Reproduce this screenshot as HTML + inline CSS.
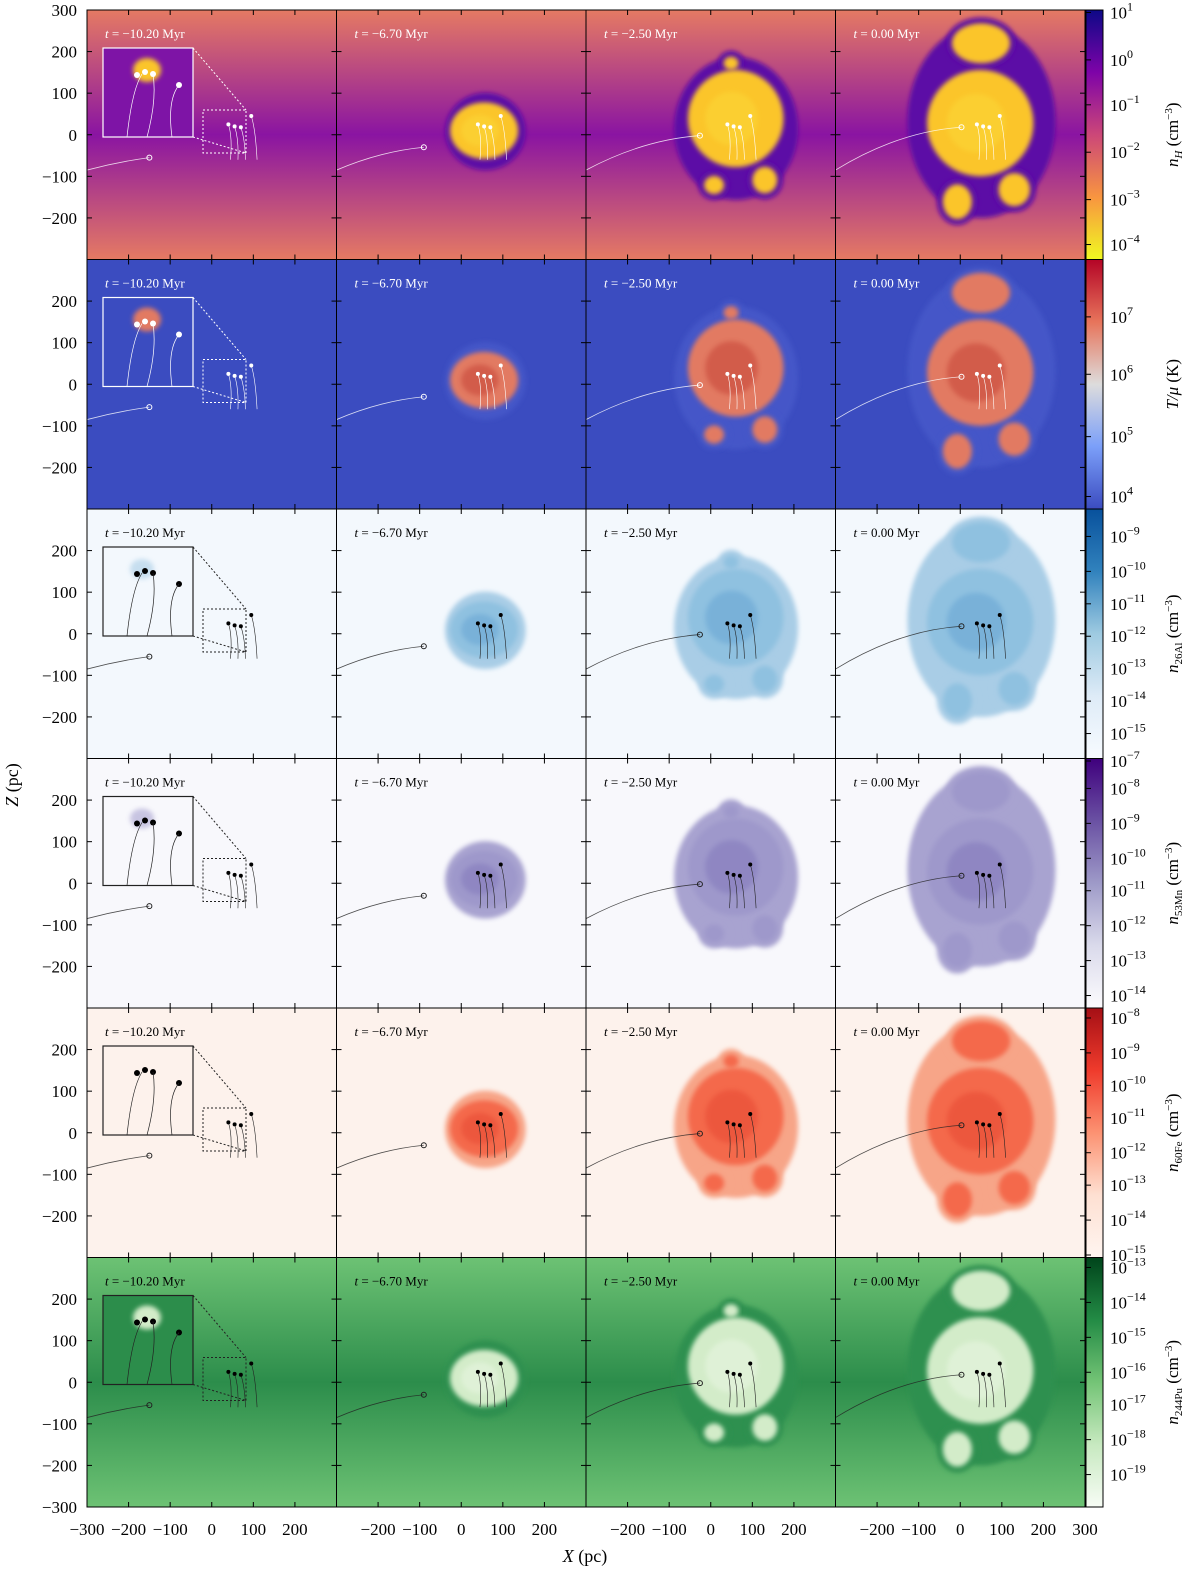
<!DOCTYPE html>
<html><head><meta charset="utf-8">
<style>
body{margin:0;background:#fff;width:1200px;height:1578px;position:relative;overflow:hidden;font-family:"Liberation Serif",serif;}
svg{position:absolute;left:0;top:0}
text{font-family:"Liberation Serif",serif;}
</style></head><body>
<svg id="fig" width="1200" height="1578" xmlns="http://www.w3.org/2000/svg"></svg>
<script>
// ---- data ----
const times = ["−10.20","−6.70","−2.50","0.00"];
// outer shell (halo) per snapshot, pc
const haloX = [0, 58, 61, 51];
const haloZ = [0, 8, 15, 32];
const haloRx = [0, 97, 149, 178];
const haloRz = [0, 93, 172, 232];
// hot core per snapshot, pc
const coreX = [0, 55, 60, 48];
const coreZ = [0, 10, 39, 28];
const coreRx = [0, 82, 115, 128];
const coreRz = [0, 68, 117, 128];
// detached lobes: [snapshot, x, z, rx, rz]
const lobes = [[2,8,-121,24,22],[2,130,-109,30,32],[2,49,172,18,16],[3,-7,-161,35,42],[3,130,-132,38,40],[3,50,220,70,48]];
const trajX = [-150,-90,-26,3];
const trajZ = [-55,-30,-2,18];
const rowNames = ["density","temperature","al26","mn53","fe60","pu244"];
const cbTicks = [
 ["1","0","−1","−2","−3","−4"],
 ["7","6","5","4"],
 ["−9","−10","−11","−12","−13","−14","−15"],
 ["−7","−8","−9","−10","−11","−12","−13","−14"],
 ["−8","−9","−10","−11","−12","−13","−14","−15"],
 ["−13","−14","−15","−16","−17","−18","−19"]];
const cbTickFrac = [
 [0.01,0.2,0.38,0.57,0.76,0.94],
 [0.23,0.46,0.71,0.95],
 [0.11,0.25,0.38,0.51,0.64,0.77,0.9],
 [0.01,0.12,0.26,0.4,0.53,0.67,0.81,0.95],
 [0.04,0.18,0.31,0.44,0.58,0.71,0.85,0.99],
 [0.04,0.18,0.32,0.46,0.59,0.73,0.87]];
const cbLabels = ["n<tspan font-size='11' dy='4'>H</tspan><tspan dy='-4' font-style='normal'> (cm</tspan><tspan font-size='11' dy='-6' font-style='normal'>−3</tspan><tspan dy='6' font-style='normal'>)</tspan>",
 "T/μ <tspan font-style='normal'>(K)</tspan>",
 "n<tspan font-size='11' dy='4' font-style='normal'>26Al</tspan><tspan dy='-4' font-style='normal'> (cm</tspan><tspan font-size='11' dy='-6' font-style='normal'>−3</tspan><tspan dy='6' font-style='normal'>)</tspan>",
 "n<tspan font-size='11' dy='4' font-style='normal'>53Mn</tspan><tspan dy='-4' font-style='normal'> (cm</tspan><tspan font-size='11' dy='-6' font-style='normal'>−3</tspan><tspan dy='6' font-style='normal'>)</tspan>",
 "n<tspan font-size='11' dy='4' font-style='normal'>60Fe</tspan><tspan dy='-4' font-style='normal'> (cm</tspan><tspan font-size='11' dy='-6' font-style='normal'>−3</tspan><tspan dy='6' font-style='normal'>)</tspan>",
 "n<tspan font-size='11' dy='4' font-style='normal'>244Pu</tspan><tspan dy='-4' font-style='normal'> (cm</tspan><tspan font-size='11' dy='-6' font-style='normal'>−3</tspan><tspan dy='6' font-style='normal'>)</tspan>"];
const xTicks=[-300,-200,-100,0,100,200,300];
const zTicks=[300,200,100,0,-100,-200,-300];
// ---- styles ----
const bg=[["#e57a63","#8a14a2"],["#3b4cc0","#3b4cc0"],["#f3f8fd","#f3f8fd"],["#f8f8fc","#f8f8fc"],["#fdf2ec","#fdf2ec"],["#6dc274","#2c8d4b"]];
const halo=["#5c0ca6","#4457c8","#a9cde6","#a8a3d0","#f7a588","#2f9050"];
const core=["#fbc52a","#e27a62","#8fc1e0","#9e98cb","#f4694b","#d3ecc9"];
const accent=["#fbdc3a","#c0392e","#5e9fd0","#7d72b8","#e4432f","#eef8e8"];
const cbStops=[["#0d0887","#7e03a8","#cc4778","#f89540","#f0f921"],["#b40426","#e7745b","#dddcdc","#7b9ff9","#3b4cc0"],["#08519c","#3182bd","#9ecae1","#deebf7","#f7fbff"],["#3f007d","#6a51a3","#9e9ac8","#dadaeb","#fcfbfd"],["#a50f15","#ef3b2c","#fc9272","#fee0d2","#fff5f0"],["#00441b","#238b45","#74c476","#c7e9c0","#f7fcf5"]];
const L=87,T=10,W=249.5,H=249.5;
const svg=document.getElementById('fig');const NS="http://www.w3.org/2000/svg";
function el(tag,attrs,parent){const e=document.createElementNS(NS,tag);for(const k in attrs)e.setAttribute(k,attrs[k]);(parent||svg).appendChild(e);return e;}
const defs=el('defs',{});
function sx(c,pc){return L+c*W+(pc+300)/600*W;}
function sz(r,pc){return T+r*H+(300-pc)/600*H;}
function len(pc){return pc/600*W;}
const blurF=el('filter',{id:'bl',x:'-20%',y:'-20%',width:'140%',height:'140%'},defs);el('feGaussianBlur',{stdDeviation:2.5},blurF);
rowNames.forEach((rn,r)=>{
 const g=el('linearGradient',{id:'bg'+r,x1:0,y1:0,x2:0,y2:1},defs);
 [[0,bg[r][0]],[0.5,bg[r][1]],[1,bg[r][0]]].forEach(s=>el('stop',{offset:s[0],'stop-color':s[1]},g));
 const cg=el('linearGradient',{id:'cb'+r,x1:0,y1:0,x2:0,y2:1},defs);
 cbStops[r].forEach((c,i)=>el('stop',{offset:i/(cbStops[r].length-1),'stop-color':c},cg));
 times.forEach((t,c)=>{const cp=el('clipPath',{id:`cp${r}_${c}`},defs);el('rect',{x:L+c*W,y:T+r*H,width:W,height:H},cp);});
});
const lineCol=r=>r<2?"#fff":"#222";
rowNames.forEach((rn,r)=>{
 times.forEach((t,c)=>{
  const x0=L+c*W,y0=T+r*H;
  const p=el('g',{'clip-path':`url(#cp${r}_${c})`});
  
  
  el('rect',{x:x0,y:y0,width:W,height:H,fill:'url(#bg'+r+')'},p);
  if(haloRx[c]>0){
   const b=el('ellipse',{cx:sx(c,haloX[c]),cy:sz(r,haloZ[c]),rx:len(haloRx[c]),ry:len(haloRz[c]),fill:halo[r],filter:'url(#bl)'},p);
   
   lobes.filter(l=>l[0]==c).forEach(l=>{
    el('ellipse',{cx:sx(c,l[1]),cy:sz(r,l[2]),rx:len(l[3]+14),ry:len(l[4]+14),fill:halo[r],filter:'url(#bl)'},p);
   });
   const k=el('ellipse',{cx:sx(c,coreX[c]),cy:sz(r,coreZ[c]),rx:len(coreRx[c]),ry:len(coreRz[c]),fill:core[r],filter:'url(#bl)'},p);
   
   el('ellipse',{cx:sx(c,coreX[c]-10),cy:sz(r,coreZ[c]),rx:len(coreRx[c]*0.55),ry:len(coreRz[c]*0.55),fill:accent[r],opacity:0.45,filter:'url(#bl)'},p);
   lobes.filter(l=>l[0]==c).forEach(l=>{
    const lb=el('ellipse',{cx:sx(c,l[1]),cy:sz(r,l[2]),rx:len(l[3]),ry:len(l[4]),fill:core[r],filter:'url(#bl)'},p);
    
   });
  }
  const lc=lineCol(r);
  const ox=trajX[c],oz=trajZ[c];
  el('path',{d:`M${x0} ${sz(r,-85)} Q${sx(c,(ox-300)/2)} ${sz(r,oz-10)} ${sx(c,ox)} ${sz(r,oz)}`,stroke:lc,fill:'none','stroke-width':0.8,opacity:0.8},p);
  el('circle',{cx:sx(c,ox),cy:sz(r,oz),r:2.5,fill:'none',stroke:lc,'stroke-width':1},p);
  [[40,25],[55,20],[70,18],[95,45]].forEach((s,i)=>{
   el('path',{d:`M${sx(c,s[0])} ${sz(r,s[1])} Q${sx(c,s[0]+10)} ${sz(r,s[1]-30)} ${sx(c,s[0]+5+i*3)} ${sz(r,-60)}`,stroke:lc,fill:'none','stroke-width':0.6},p);
   el('circle',{cx:sx(c,s[0]),cy:sz(r,s[1]),r:2,fill:r<2?"#fff":"#000"},p);
  });
  if(c==0){
   el('rect',{x:x0+16,y:y0+38,width:90,height:89,fill:r==0?'#7e14a6':(r==1?'#3b4cc0':(r==5?'#2c8d4b':bg[r][0])),stroke:lc,'stroke-width':1.2},p);
   if(r==0||r==1||r==5){el('ellipse',{cx:x0+60,cy:y0+60,rx:14,ry:12,fill:r==0?'#fbc52a':(r==1?'#e27a62':'#d3ecc9'),filter:'url(#bl)'},p);}
   if(r==2||r==3){el('ellipse',{cx:x0+55,cy:y0+60,rx:12,ry:10,fill:halo[r],opacity:0.6,filter:'url(#bl)'},p);}
   el('rect',{x:x0+116,y:y0+100,width:43,height:43,fill:'none',stroke:lc,'stroke-dasharray':'2,2'},p);
   el('path',{d:`M${x0+106} ${y0+38}L${x0+159} ${y0+100}M${x0+106} ${y0+127}L${x0+159} ${y0+143}`,stroke:lc,'stroke-dasharray':'2,2'},p);
   [[50,65],[58,62],[66,64],[92,75]].forEach(s=>el('circle',{cx:x0+s[0],cy:y0+s[1],r:3,fill:r<2?'#fff':'#000'},p));
   el('path',{d:`M${x0+40} ${y0+127}Q${x0+45} ${y0+80} ${x0+55} ${y0+64}M${x0+60} ${y0+127}Q${x0+70} ${y0+90} ${x0+66} ${y0+64}M${x0+85} ${y0+127}Q${x0+80} ${y0+90} ${x0+92} ${y0+75}`,stroke:lc,fill:'none','stroke-width':0.7},p);
  }
  const f=el('g',{});
  el('rect',{x:x0,y:y0,width:W,height:H,fill:'none',stroke:'#000','stroke-width':1},f);
  const tl=el('text',{x:x0+18,y:y0+28,'font-size':13,fill:r<2?'#fff':'#000'},f);
  tl.innerHTML=`<tspan font-style="italic">t</tspan> = ${t} Myr`;
  
  xTicks.forEach(v=>{const X=sx(c,v);el('line',{x1:X,x2:X,y1:y0,y2:y0+5,stroke:'#000'},f);el('line',{x1:X,x2:X,y1:y0+H,y2:y0+H-5,stroke:'#000'},f);});
  zTicks.forEach(v=>{const Y=sz(r,v);el('line',{x1:x0,x2:x0+5,y1:Y,y2:Y,stroke:'#000'},f);el('line',{x1:x0+W,x2:x0+W-5,y1:Y,y2:Y,stroke:'#000'},f);});
 });
 zTicks.forEach(v=>{
  if((v==300&&r!=0)||(v==-300&&r!=5))return;
  const tt=el('text',{x:77,y:sz(r,v)+6,'font-size':17,'text-anchor':'end'});
  tt.textContent=v<0?'−'+(-v):v;
  
 });
 const cy0=T+r*H,cx0=L+4*W+1;
 const cb=el('rect',{x:cx0,y:cy0,width:17,height:H,fill:'url(#cb'+r+')',stroke:'#000','stroke-width':1});
 
 cbTicks[r].forEach((v,i)=>{
  const Y=cy0+cbTickFrac[r][i]*H;
  el('line',{x1:cx0,x2:cx0+5,y1:Y,y2:Y,stroke:'#000'});
  const tt=el('text',{x:cx0+24,y:Y+6,'font-size':17});
  tt.innerHTML=`10<tspan font-size="12" dy="-8">${v}</tspan>`;
  
 });
 const lab=el('text',{x:0,y:0,'font-size':17,'text-anchor':'middle',transform:`translate(1178,${cy0+H/2}) rotate(-90)`,'font-style':'italic'});
 lab.innerHTML=cbLabels[r];
 
});
times.forEach((t,c)=>{
 xTicks.forEach(v=>{
  if(v==300&&c!=3)return; if(v==-300&&c!=0)return;
  const tt=el('text',{x:sx(c,v),y:1535,'font-size':17,'text-anchor':'middle'});
  tt.textContent=v<0?'−'+(-v):v;
  
 });
});
const xt=el('text',{x:585,y:1562,'font-size':18,'text-anchor':'middle'});xt.innerHTML='<tspan font-style="italic">X</tspan> (pc)';

const zt=el('text',{x:0,y:0,'font-size':18,'text-anchor':'middle',transform:'translate(18,785) rotate(-90)'});zt.innerHTML='<tspan font-style="italic">Z</tspan> (pc)';

</script>
</body></html>
